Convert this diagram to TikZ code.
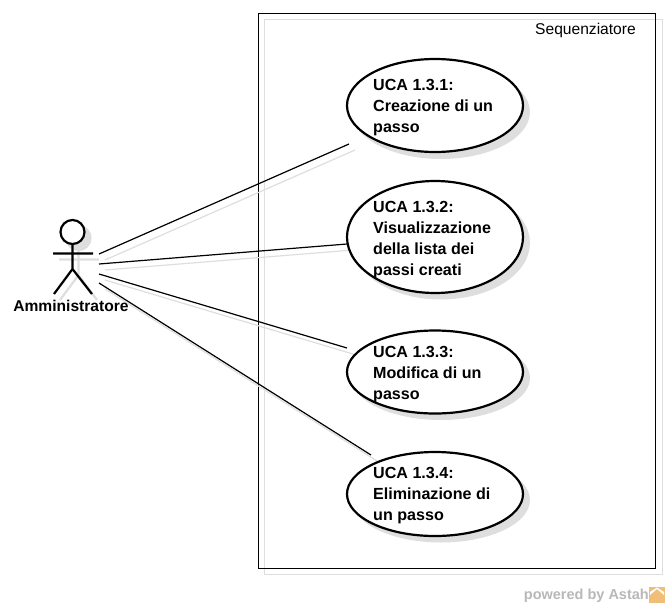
\documentclass[tikz,border=0pt]{standalone}
\usepackage{fontspec}
\setmainfont{Liberation Sans}
\usetikzlibrary{shapes.geometric}
\definecolor{shadowgray}{gray}{0.87}
\definecolor{wm}{gray}{0.72}
\definecolor{wmorange}{RGB}{240,190,120}
\tikzset{
  x=1pt,y=-1pt,
  uca/.style={ellipse,draw=black,line width=2.2pt,fill=white,inner sep=0pt,minimum width=176pt},
  ucashadow/.style={ellipse,fill=shadowgray,draw=none,inner sep=0pt,minimum width=178pt},
  ucatext/.style={font=\fontsize{16.1}{20.8}\selectfont\bfseries,align=left,anchor=north west,inner sep=0pt},
  link/.style={draw=black,line width=1.2pt},
  linkshadow/.style={draw=shadowgray,line width=1.2pt},
  stick/.style={draw=black,line width=2.2pt},
  stickshadow/.style={draw=shadowgray,line width=2.2pt},
}
\begin{document}
\begin{tikzpicture}
\useasboundingbox (0,0) rectangle (669,608);
% system frame
\draw[shadowgray,line width=1pt] (264.5,19.5) rectangle (662,574);
\draw[black,line width=1pt] (258.5,13.5) rectangle (655.5,568.5);
\node[anchor=north east,inner sep=0pt,font=\fontsize{15.6}{18}\selectfont] (sys) at (636,22.5) {Sequenziatore};
% anchor coordinates of the connectors
\coordinate (a1) at (99,254);
\coordinate (a2) at (99,264);
\coordinate (a3) at (99,274);
\coordinate (a4) at (99,283);
\coordinate (e1) at (349,144);
\coordinate (e2) at (347,244);
\coordinate (e3) at (347,348);
\coordinate (e4) at (371,455);
\coordinate (sa1) at (105,260);
\coordinate (sa2) at (105,270);
\coordinate (sa3) at (105,280);
\coordinate (sa4) at (105,289);
\coordinate (se1) at (355,150);
\coordinate (se2) at (353,250);
\coordinate (se3) at (353,354);
\coordinate (se4) at (377,461);
\foreach \i in {1,2,3,4} \draw[linkshadow] (sa\i) -- (se\i);
% use case shadows
\node[ucashadow,minimum height=94pt] (s1) at (441,112) {};
\node[ucashadow,minimum height=113pt] (s2) at (441,243) {};
\node[ucashadow,minimum height=84pt] (s3) at (441,378) {};
\node[ucashadow,minimum height=85pt] (s4) at (441,500) {};
\foreach \i in {1,2,3,4} \draw[link] (a\i) -- (e\i);
% use cases
\node[uca,minimum height=93pt] (u1) at (435,105.5) {};
\node[uca,minimum height=112pt] (u2) at (435,237) {};
\node[uca,minimum height=83pt] (u3) at (435,372) {};
\node[uca,minimum height=84pt] (u4) at (435,494) {};
\node[ucatext] (t1) at (373,79.5) {UCA 1.3.1:\\Creazione di un\\passo};
\node[ucatext] (t2) at (373,201.5) {UCA 1.3.2:\\Visualizzazione\\della lista dei\\passi creati};
\node[ucatext] (t3) at (373,346.5) {UCA 1.3.3:\\Modifica di un\\passo};
\node[ucatext] (t4) at (373,467.5) {UCA 1.3.4:\\Eliminazione di\\un passo};
% actor shadow
\draw[stickshadow,fill=shadowgray] (78.5,238) circle (12);
\draw[stickshadow] (59,259.5) -- (99,259.5) (78.5,250) -- (78.5,275) -- (60,300) (78.5,275) -- (97,300);
% actor
\draw[stick,fill=white] (72.5,232) circle (12);
\draw[stick] (53,253.5) -- (93,253.5) (72.5,244) -- (72.5,269) -- (54,294) (72.5,269) -- (92,294);
\node[font=\fontsize{15.6}{18}\selectfont\bfseries,inner sep=0pt] (actor) at (71,305.5) {Amministratore};
% watermark
\node[anchor=east,inner sep=0pt,text=wm,font=\fontsize{14.5}{16}\selectfont\bfseries] (wmark) at (649,595.5) {powered by Astah};
\fill[wmorange] (649,587) rectangle (665,603);
\fill[white] (650,595) -- (657,589) -- (664,595) -- (664,592) -- (657,587.5) -- (650,592) -- cycle;
\end{tikzpicture}
\end{document}
